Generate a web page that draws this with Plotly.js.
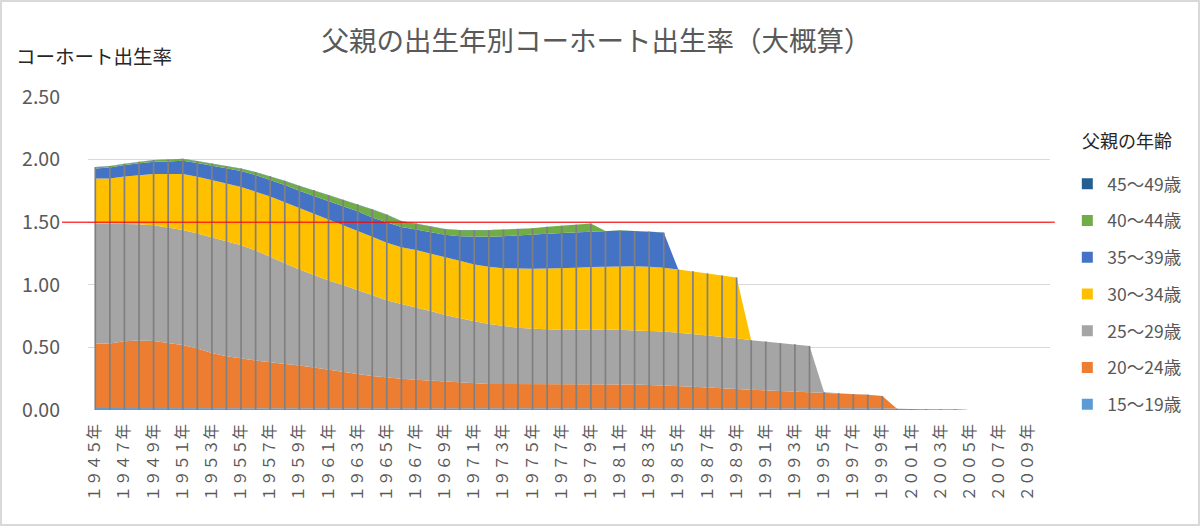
<!DOCTYPE html>
<html>
<head>
<meta charset="utf-8">
<script src="https://cdn.plot.ly/plotly-3.0.1.min.js"></script>
<style>
  body { margin: 0; background: #fff; }
  #wrap { position: relative; width: 1200px; height: 526px; }
  #chart { width: 1200px; height: 526px; }
  #frame { position: absolute; left: 0; top: 0; width: 1200px; height: 526px;
           box-sizing: border-box; border: 2px solid #d9d9d9; pointer-events: none; }
</style>
</head>
<body>
<div id="wrap">
  <div id="chart"></div>
  <div id="frame"></div>
</div>
<script>
// 父親の出生年 (1945〜2005)。値は図から読み取った概算。
const YEARS = [
  1945, 1946, 1947, 1948, 1949, 1950, 1951, 1952, 1953, 1954,
  1955, 1956, 1957, 1958, 1959, 1960, 1961, 1962, 1963, 1964,
  1965, 1966, 1967, 1968, 1969, 1970, 1971, 1972, 1973, 1974,
  1975, 1976, 1977, 1978, 1979, 1980, 1981, 1982, 1983, 1984,
  1985, 1986, 1987, 1988, 1989, 1990, 1991, 1992, 1993, 1994,
  1995, 1996, 1997, 1998, 1999, 2000, 2001, 2002, 2003, 2004,
  2005
];

const AGE_15_19 = [
  0.015, 0.015, 0.015, 0.015, 0.015, 0.015, 0.015, 0.015, 0.015, 0.015,
  0.015, 0.015, 0.015, 0.015, 0.015, 0.015, 0.015, 0.014, 0.014, 0.014,
  0.014, 0.014, 0.014, 0.014, 0.014, 0.014, 0.014, 0.014, 0.014, 0.014,
  0.015, 0.015, 0.015, 0.015, 0.015, 0.016, 0.016, 0.016, 0.016, 0.016,
  0.016, 0.016, 0.016, 0.016, 0.016, 0.015, 0.015, 0.015, 0.015, 0.015,
  0.015, 0.015, 0.014, 0.014, 0.014, 0.009, 0.008, 0.008, 0.007, 0.006,
  0
];
const AGE_20_24 = [
  0.516, 0.516, 0.534, 0.540, 0.537, 0.524, 0.505, 0.476, 0.441, 0.415,
  0.396, 0.380, 0.367, 0.357, 0.341, 0.325, 0.306, 0.289, 0.273, 0.257,
  0.243, 0.235, 0.227, 0.220, 0.212, 0.204, 0.198, 0.193, 0.193, 0.193,
  0.192, 0.192, 0.191, 0.191, 0.191, 0.191, 0.191, 0.188, 0.183, 0.180,
  0.175, 0.170, 0.164, 0.156, 0.151, 0.147, 0.142, 0.139, 0.134, 0.131,
  0.126, 0.120, 0.113, 0.108, 0.097, 0, 0, 0, 0, 0,
  0
];
const AGE_25_29 = [
  0.959, 0.959, 0.940, 0.929, 0.924, 0.918, 0.918, 0.918, 0.924, 0.921,
  0.905, 0.879, 0.844, 0.801, 0.767, 0.737, 0.714, 0.695, 0.671, 0.650,
  0.619, 0.598, 0.579, 0.557, 0.533, 0.514, 0.497, 0.480, 0.462, 0.449,
  0.441, 0.435, 0.434, 0.434, 0.435, 0.433, 0.433, 0.430, 0.433, 0.430,
  0.427, 0.422, 0.417, 0.415, 0.406, 0.395, 0.390, 0.379, 0.376, 0.366,
  0, 0, 0, 0, 0, 0, 0, 0, 0, 0,
  0
];
const AGE_30_34 = [
  0.360, 0.360, 0.377, 0.392, 0.408, 0.427, 0.446, 0.454, 0.459, 0.459,
  0.465, 0.472, 0.480, 0.486, 0.491, 0.491, 0.486, 0.475, 0.470, 0.462,
  0.459, 0.453, 0.457, 0.459, 0.459, 0.460, 0.453, 0.457, 0.464, 0.472,
  0.480, 0.489, 0.492, 0.497, 0.501, 0.506, 0.509, 0.515, 0.512, 0.510,
  0.504, 0.501, 0.494, 0.488, 0.486, 0, 0, 0, 0, 0,
  0, 0, 0, 0, 0, 0, 0, 0, 0, 0,
  0
];
const AGE_35_39 = [
  0.079, 0.087, 0.090, 0.096, 0.098, 0.101, 0.106, 0.109, 0.112, 0.122,
  0.127, 0.130, 0.133, 0.138, 0.138, 0.141, 0.143, 0.154, 0.159, 0.154,
  0.164, 0.162, 0.164, 0.167, 0.181, 0.196, 0.221, 0.239, 0.255, 0.265,
  0.271, 0.276, 0.282, 0.283, 0.283, 0.284, 0.284, 0.281, 0.281, 0.281,
  0, 0, 0, 0, 0, 0, 0, 0, 0, 0,
  0, 0, 0, 0, 0, 0, 0, 0, 0, 0,
  0
];
const AGE_40_44 = [
  0.009, 0.009, 0.009, 0.008, 0.012, 0.014, 0.014, 0.014, 0.014, 0.014,
  0.019, 0.022, 0.027, 0.032, 0.037, 0.046, 0.051, 0.051, 0.054, 0.064,
  0.060, 0.046, 0.046, 0.046, 0.045, 0.048, 0.051, 0.053, 0.051, 0.051,
  0.053, 0.056, 0.058, 0.060, 0.064, 0, 0, 0, 0, 0,
  0, 0, 0, 0, 0, 0, 0, 0, 0, 0,
  0, 0, 0, 0, 0, 0, 0, 0, 0, 0,
  0
];
const AGE_45_49 = [
  0.002, 0.002, 0.002, 0.002, 0.002, 0.002, 0.002, 0.002, 0.002, 0.002,
  0.002, 0.002, 0.002, 0.002, 0.002, 0.002, 0.002, 0.002, 0.002, 0.002,
  0.002, 0.002, 0.002, 0.002, 0.002, 0.002, 0.002, 0.002, 0.002, 0.002,
  0, 0, 0, 0, 0, 0, 0, 0, 0, 0,
  0, 0, 0, 0, 0, 0, 0, 0, 0, 0,
  0, 0, 0, 0, 0, 0, 0, 0, 0, 0,
  0
];

const TICK_YEARS = [
  1945, 1947, 1949, 1951, 1953, 1955, 1957, 1959, 1961, 1963, 1965,
  1967, 1969, 1971, 1973, 1975, 1977, 1979, 1981, 1983, 1985, 1987,
  1989, 1991, 1993, 1995, 1997, 1999, 2001, 2003, 2005, 2007, 2009
];
const TICK_LABELS = [
  '１９４５年', '１９４７年', '１９４９年', '１９５１年', '１９５３年', '１９５５年',
  '１９５７年', '１９５９年', '１９６１年', '１９６３年', '１９６５年', '１９６７年',
  '１９６９年', '１９７１年', '１９７３年', '１９７５年', '１９７７年', '１９７９年',
  '１９８１年', '１９８３年', '１９８５年', '１９８７年', '１９８９年', '１９９１年',
  '１９９３年', '１９９５年', '１９９７年', '１９９９年', '２００１年', '２００３年',
  '２００５年', '２００７年', '２００９年'
];

// 下から積み上げる順
const SERIES = [
  { name: '15～19歳', y: AGE_15_19, color: '#5B9BD5' },
  { name: '20～24歳', y: AGE_20_24, color: '#ED7D31' },
  { name: '25～29歳', y: AGE_25_29, color: '#A5A5A5' },
  { name: '30～34歳', y: AGE_30_34, color: '#FFC000' },
  { name: '35～39歳', y: AGE_35_39, color: '#4472C4' },
  { name: '40～44歳', y: AGE_40_44, color: '#70AD47' },
  { name: '45～49歳', y: AGE_45_49, color: '#255E91' },
];

const FONT = '"Noto Sans CJK JP", "Noto Sans", sans-serif';

const areaTraces = SERIES.map((s) => ({
  type: 'scatter', x: YEARS, y: s.y, name: s.name,
  stackgroup: 'age', mode: 'lines', line: { width: 0, color: s.color },
  fillcolor: s.color, showlegend: false, hoverinfo: 'skip',
}));

// 降下線: 各年の合計値から0まで
const totals = YEARS.map((_, i) => SERIES.reduce((sum, s) => sum + s.y[i], 0));
const dropX = [], dropY = [];
YEARS.forEach((yr, i) => {
  if (totals[i] <= 0) return;
  dropX.push(yr, yr, null);
  dropY.push(0, totals[i], null);
});
const dropTrace = {
  type: 'scatter', x: dropX, y: dropY, mode: 'lines',
  line: { color: '#808080', width: 1.7 }, showlegend: false, hoverinfo: 'skip',
};

// 凡例用の四角（上から 45～49歳）
const legendTraces = SERIES.slice().reverse().map((s, i) => ({
  type: 'scatter', x: [null], y: [null], mode: 'markers', name: s.name,
  legendgroup: 'g' + i,
  marker: { symbol: 'square', size: 11, color: s.color },
}));

const layout = {
  width: 1200, height: 526,
  margin: { l: 88, r: 150, t: 97, b: 116 },
  paper_bgcolor: '#fff', plot_bgcolor: '#fff',
  font: { family: FONT, color: '#595959' },
  title: {
    text: '父親の出生年別コーホート出生率（大概算）',
    font: { size: 27.5, color: '#595959' },
    xref: 'container', x: 0.497, xanchor: 'center',
    yref: 'container', y: 1 - 41 / 526, yanchor: 'middle',
  },
  xaxis: {
    range: [1944.5, 2010.5], tickvals: TICK_YEARS, ticktext: TICK_LABELS,
    tickangle: -90, tickfont: { size: 15.5, color: '#595959' },
    showgrid: false, zeroline: false, showline: false, ticks: '',
    ticklabelstandoff: 10,
  },
  yaxis: {
    range: [0, 2.5], dtick: 0.5, tickformat: '.2f',
    tickfont: { size: 19.5, color: '#595959' },
    gridcolor: '#d9d9d9', gridwidth: 1, zeroline: false, showline: false,
    ticks: '', ticklabelstandoff: 27,
  },
  showlegend: true,
  legend: {
    x: 1.018, xanchor: 'left', y: 0.78, yanchor: 'top',
    traceorder: 'grouped', tracegroupgap: 11,
    font: { size: 17.5, color: '#595959' },
    bgcolor: 'rgba(0,0,0,0)',
  },
  shapes: [{
    type: 'line', xref: 'paper', yref: 'y', x0: -0.027, x1: 1.005, y0: 1.5, y1: 1.5,
    line: { color: 'rgba(255,0,0,0.75)', width: 1.6 }, layer: 'above',
  }],
  annotations: [
    {
      text: 'コーホート出生率', xref: 'paper', yref: 'paper',
      x: -74 / 962, xanchor: 'left', y: 1 + (97 - 55) / 313, yanchor: 'middle',
      showarrow: false, font: { size: 19.5, color: '#262626' },
    },
    {
      text: '父親の年齢', xref: 'paper', yref: 'paper',
      x: (1080 - 88) / 962, xanchor: 'left', y: (410 - 140) / 313, yanchor: 'middle',
      showarrow: false, font: { size: 18, color: '#262626' },
    },
  ],
};

Plotly.newPlot('chart', [...areaTraces, dropTrace, ...legendTraces], layout,
  { displayModeBar: false, staticPlot: true });
</script>
</body>
</html>
